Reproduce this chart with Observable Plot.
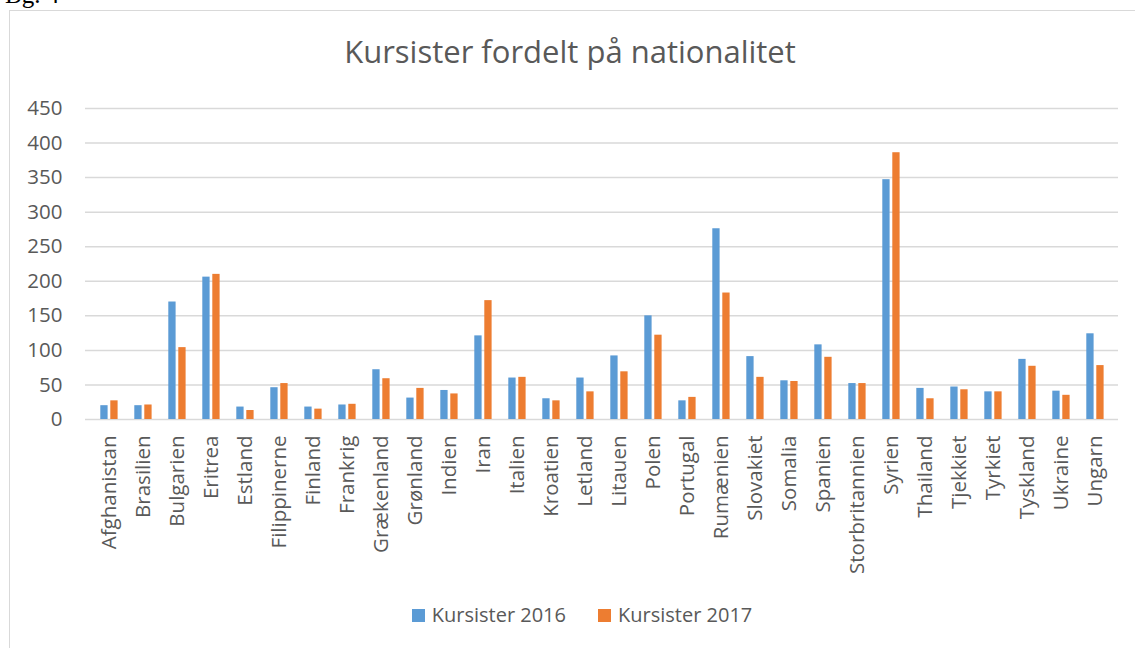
<!DOCTYPE html>
<html>
<head>
<meta charset="utf-8">
<script src="https://cdn.jsdelivr.net/npm/d3@7"></script>
<script src="https://cdn.jsdelivr.net/npm/@observablehq/plot@0.6"></script>
<style>
  html, body { margin: 0; padding: 0; background: #fff; }
  body { width: 1135px; height: 648px; position: relative; overflow: hidden; font-family: "Open Sans", sans-serif; color: #595959; }
  #bg { position: absolute; left: 5px; top: -18px; font-family: "Liberation Serif", serif; font-size: 25px; line-height: 25px; color: #000; }
  #frame { position: absolute; left: 9px; top: 10px; width: 1200px; height: 700px; border-left: 1.5px solid #d9d9d9; border-top: 1.5px solid #d9d9d9; box-sizing: border-box; }
  #title { position: absolute; left: 0; width: 1140px; top: 31px; text-align: center; font-size: 31px; line-height: 40px; color: #595959; }
  #chart { position: absolute; left: 0; top: 0; }
  #legend { position: absolute; top: 602px; left: 0; width: 1164px; display: flex; justify-content: center; gap: 32px; font-size: 20px; line-height: 26px; color: #595959; }
  .item { display: flex; align-items: center; gap: 7px; }
  .sw { width: 13px; height: 13px; display: inline-block; }
</style>
</head>
<body>
<div id="bg">Bg. 4</div>
<div id="frame"></div>
<div id="chart"></div>
<div id="title">Kursister fordelt på nationalitet</div>
<div id="legend"></div>
<script>
const countries = ["Afghanistan","Brasilien","Bulgarien","Eritrea","Estland","Filippinerne","Finland","Frankrig","Grækenland","Grønland","Indien","Iran","Italien","Kroatien","Letland","Litauen","Polen","Portugal","Rumænien","Slovakiet","Somalia","Spanien","Storbritannien","Syrien","Thailand","Tjekkiet","Tyrkiet","Tyskland","Ukraine","Ungarn"];
const kursister2016 = [20,20,170,206,18,46,18,21,72,31,42,121,60,30,60,92,150,27,276,91,56,108,52,347,45,47,40,87,41,124];
const kursister2017 = [27,21,104,210,13,52,15,22,59,45,37,172,61,27,40,69,122,32,183,61,55,90,52,386,30,43,40,77,35,78];
const seriesNames = ["Kursister 2016","Kursister 2017"];
const seriesColors = ["#5b9bd5","#ed7d31"];
const yTicks = [0,50,100,150,200,250,300,350,400,450];

const d2016 = countries.map((c, i) => ({country: c, value: kursister2016[i]}));
const d2017 = countries.map((c, i) => ({country: c, value: kursister2017[i]}));

const chart = Plot.plot({
  width: 1135,
  height: 600,
  marginLeft: 85,
  marginRight: 17,
  marginTop: 108,
  marginBottom: 181,
  style: {fontFamily: "Open Sans, sans-serif", fontSize: "20.5px", color: "#595959", background: "transparent", overflow: "visible"},
  x: {domain: countries, padding: 0, label: null, tickSize: 0, tickPadding: 16, tickRotate: -90},
  y: {domain: [0, 450], ticks: yTicks, label: null, tickSize: 0, tickPadding: 23},
  marks: [
    Plot.ruleY(yTicks, {stroke: "#d9d9d9", strokeWidth: 1.5}),
    Plot.barY(d2016, {x: "country", y: "value", fill: seriesColors[0], insetLeft: 8.3, insetRight: 18.4}),
    Plot.barY(d2017, {x: "country", y: "value", fill: seriesColors[1], insetLeft: 18.3, insetRight: 8.4})
  ]
});
document.getElementById("chart").appendChild(chart);

const legend = document.getElementById("legend");
seriesNames.forEach((name, i) => {
  const item = document.createElement("div");
  item.className = "item";
  const sw = document.createElement("span");
  sw.className = "sw";
  sw.style.background = seriesColors[i];
  const t = document.createElement("span");
  t.textContent = name;
  item.appendChild(sw);
  item.appendChild(t);
  legend.appendChild(item);
});
</script>
</body>
</html>
